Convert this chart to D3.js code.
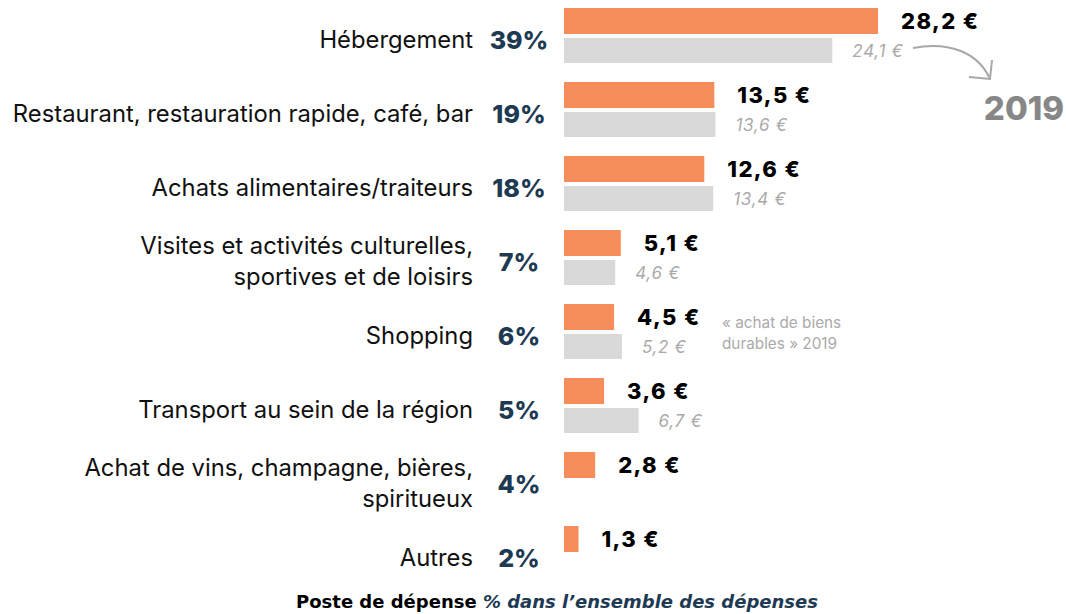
<!DOCTYPE html>
<html>
<head>
<meta charset="utf-8">
<script src="https://cdn.jsdelivr.net/npm/d3@7"></script>
<style>
  html, body { margin: 0; padding: 0; background: #fff; }
  svg { display: block; }
</style>
</head>
<body>
<svg id="chart" width="1066" height="614"></svg>
<script>
// Spending categories (label lines), share of total, spend per day now and in 2019
const categories = [
  ["Hébergement"],
  ["Restaurant, restauration rapide, café, bar"],
  ["Achats alimentaires/traiteurs"],
  ["Visites et activités culturelles,", "sportives et de loisirs"],
  ["Shopping"],
  ["Transport au sein de la région"],
  ["Achat de vins, champagne, bières,", "spiritueux"],
  ["Autres"]
];
const shares = ["39%", "19%", "18%", "7%", "6%", "5%", "4%", "2%"];
const current = [28.2, 13.5, 12.6, 5.1, 4.5, 3.6, 2.8, 1.3];
const previous = [24.1, 13.6, 13.4, 4.6, 5.2, 6.7, null, null];
const fmt = v => d3.format(".1f")(v).replace(".", ",") + " €";

const svg = d3.select("#chart");
const orange = "#F78D5A", grey = "#D9D9D9", navy = "#1E3A52";

const x = d3.scaleLinear().domain([0, 28.2]).range([564, 878]);
const y = d3.scaleBand().domain(d3.range(categories.length)).range([8, 600]).paddingInner(0).paddingOuter(0);
const barH = 26, gap = 4;

const rows = svg.selectAll("g.row").data(categories.map((c, i) => i)).join("g")
  .attr("class", "row")
  .attr("transform", i => `translate(0,${y(i)})`);

// current-year bars
rows.append("rect")
  .attr("x", x(0)).attr("y", 0)
  .attr("width", i => x(current[i]) - x(0)).attr("height", barH)
  .attr("fill", orange);

rows.append("text")
  .attr("x", i => x(current[i]) + 23).attr("y", barH / 2)
  .attr("dy", "0.36em")
  .attr("font-family", "Inter, sans-serif").attr("font-weight", 800)
  .attr("font-size", 22).attr("letter-spacing", 1.4).attr("fill", "#000")
  .text(i => fmt(current[i]));

// 2019 bars
const prevRows = rows.filter(i => previous[i] != null);
prevRows.append("rect")
  .attr("x", x(0)).attr("y", barH + gap)
  .attr("width", i => x(previous[i]) - x(0)).attr("height", barH - 1)
  .attr("fill", grey);
prevRows.append("text")
  .attr("x", i => x(previous[i]) + 20).attr("y", barH + gap + barH / 2)
  .attr("dy", "0.36em")
  .attr("font-family", "Inter, sans-serif").attr("font-style", "italic")
  .attr("font-size", 17).attr("letter-spacing", 0.7).attr("fill", "#AAAAAA")
  .text(i => fmt(previous[i]));

// category labels
rows.each(function(i) {
  const lines = categories[i];
  const t = d3.select(this).append("text")
    .attr("text-anchor", "end")
    .attr("font-family", "Inter, sans-serif").attr("font-size", 23.8)
    .attr("fill", "#111");
  const lh = 31;
  const c = 31 - (lines.length - 1) * lh / 2;
  lines.forEach((l, k) => {
    t.append("tspan").attr("x", 473).attr("y", c + k * lh).attr("dy", "0.36em").text(l);
  });
});

// share labels
rows.append("text")
  .attr("x", 519).attr("y", 32).attr("dy", "0.36em")
  .attr("text-anchor", "middle")
  .attr("font-family", "Inter, sans-serif").attr("font-weight", 800)
  .attr("font-size", 25).attr("fill", navy)
  .text(i => shares[i]);

// 2019 marker with curved arrow
svg.append("path")
  .attr("d", "M913,48 C948,41 978,52 990,79")
  .attr("fill", "none").attr("stroke", "#A8A8A8").attr("stroke-width", 2);
svg.append("path")
  .attr("d", "M992,60 L990,79 L969,77")
  .attr("fill", "none").attr("stroke", "#A8A8A8").attr("stroke-width", 2);
svg.append("text")
  .attr("x", 1024).attr("y", 120)
  .attr("text-anchor", "middle")
  .attr("font-family", "Inter, sans-serif").attr("font-weight", 800)
  .attr("font-size", 33).attr("fill", "#878787")
  .text("2019");

// note on the shopping line
const note = svg.append("text")
  .attr("font-family", "Inter, sans-serif").attr("font-size", 15.3).attr("fill", "#AAAAAA");
note.append("tspan").attr("x", 722).attr("y", 328).text("« achat de biens");
note.append("tspan").attr("x", 722).attr("y", 349).text("durables » 2019");

// footer caption
const cap = svg.append("text")
  .attr("x", 557).attr("y", 608).attr("text-anchor", "middle")
  .attr("font-family", "'DejaVu Sans', sans-serif").attr("font-weight", 700).attr("font-size", 18);
cap.append("tspan").attr("fill", "#000").text("Poste de dépense ");
cap.append("tspan").attr("fill", navy).attr("font-style", "italic").text("% dans l’ensemble des dépenses");
</script>
</body>
</html>
